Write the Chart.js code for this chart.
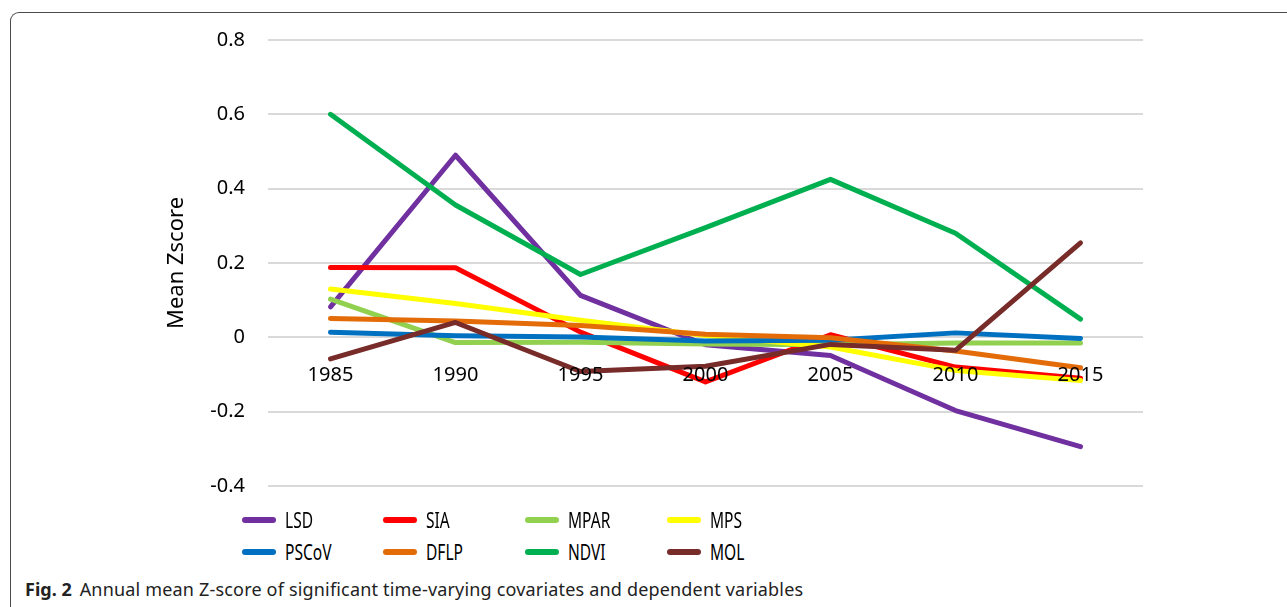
<!DOCTYPE html>
<html>
<head>
<title>Annual mean Z-score</title>
<meta charset="UTF-8">
<script src="https://cdn.jsdelivr.net/npm/chart.js"></script>
<style>
  body { margin: 0; background: #fff; width: 1287px; height: 607px; overflow: hidden; position: relative; font-family: "Noto Sans", sans-serif; }
  .frame { position: absolute; left: 10px; top: 12px; width: 1400px; height: 700px; border-top: 1.5px solid #4a4a4a; border-left: 1.5px solid #4a4a4a; border-top-left-radius: 9px; }
  #wrap { position: absolute; left: 0; top: 0; width: 1287px; height: 521px; }
  #legend { position: absolute; left: 0; top: 0; }
  .item { position: absolute; height: 24px; font-family: "Noto Sans", sans-serif; font-size: 21px; color: #000; }
  .item span.sw { position: absolute; left: 0; top: 9px; width: 34px; height: 6px; border-radius: 3px; }
  .item span.tx { position: absolute; left: 43px; top: 0; line-height: 24px; white-space: nowrap; transform: scaleX(0.74); transform-origin: left center; }
  .caption { position: absolute; left: 25px; top: 577px; font-size: 18px; color: #222; white-space: nowrap; }
  .caption b { margin-right: 8px; }
  .caption span { letter-spacing: 0.18px; }
</style>
</head>
<body>
<div class="frame"></div>
<div id="wrap"><canvas id="chart"></canvas></div>
<div id="legend"></div>
<div class="caption"><b>Fig. 2</b><span>Annual mean Z-score of significant time-varying covariates and dependent variables</span></div>
<script>
// years on the x axis
const years = ["1985", "1990", "1995", "2000", "2005", "2010", "2015"];
const yTicks = [-0.4, -0.2, 0, 0.2, 0.4, 0.6, 0.8];

// mean z-score per variable
const LSD   = [0.082, 0.490, 0.113, -0.020, -0.049, -0.197, -0.294];
const SIA   = [0.188, 0.187, 0.014, -0.120, 0.007, -0.080, -0.110];
const MPAR  = [0.103, -0.014, -0.013, -0.018, -0.020, -0.015, -0.015];
const MPS   = [0.130, 0.091, 0.046, 0.005, -0.026, -0.089, -0.116];
const PSCoV = [0.014, 0.004, 0.001, -0.010, -0.008, 0.012, -0.003];
const DFLP  = [0.051, 0.044, 0.032, 0.008, -0.001, -0.037, -0.082];
const NDVI  = [0.600, 0.356, 0.169, 0.295, 0.425, 0.280, 0.049];
const MOL   = [-0.058, 0.040, -0.092, -0.078, -0.019, -0.035, 0.254];

const names  = ["LSD", "SIA", "MPAR", "MPS", "PSCoV", "DFLP", "NDVI", "MOL"];
const series = [LSD, SIA, MPAR, MPS, PSCoV, DFLP, NDVI, MOL];
const colors = ["#7030A0", "#FF0000", "#92D050", "#FFFF00", "#0070C0", "#E36C09", "#00B050", "#772C2A"];

const datasets = names.map((n, i) => ({
  label: n,
  data: series[i],
  borderColor: colors[i],
  backgroundColor: colors[i],
  borderWidth: 5,
  pointRadius: 0,
  tension: 0,
  borderCapStyle: "round",
  borderJoinStyle: "round",
  order: names.length - i   // later series drawn on top, like excel
}));

new Chart(document.getElementById("chart"), {
  type: "line",
  data: { labels: years, datasets: datasets },
  options: {
    responsive: true,
    maintainAspectRatio: false,
    animation: false,
    layout: { padding: { left: 160, right: 144, top: 40, bottom: 15 } },
    plugins: { legend: { display: false }, tooltip: { enabled: false } },
    scales: {
      x: {
        type: "category",
        offset: true,
        position: { y: 0 },
        grid: { display: false },
        border: { display: false },
        // year labels sit on top of the lines
        ticks: { z: 1, color: "#000", padding: 18, font: { family: "Noto Sans", size: 20 }, maxRotation: 0 }
      },
      y: {
        min: -0.4,
        max: 0.8,
        afterFit: s => { s.width = 108; },
        afterBuildTicks: s => { s.ticks = yTicks.map(v => ({ value: v })); },
        grid: { color: "#d9d9d9", lineWidth: 2, drawTicks: false },
        border: { display: false },
        ticks: { color: "#000", padding: 23, font: { family: "Noto Sans", size: 20 },
                 callback: v => String(Math.round(v * 10) / 10) },
        title: { display: true, text: "Mean Zscore", color: "#000", padding: { top: 4, bottom: 0 },
                 font: { family: "Noto Sans", size: 22 } }
      }
    }
  }
});

// legend, 4 columns x 2 rows
const legend = document.getElementById("legend");
const colX = [242, 383, 525, 667];
const rowY = [508, 540];
names.forEach((n, i) => {
  const d = document.createElement("div");
  d.className = "item";
  d.style.left = colX[i % 4] + "px";
  d.style.top = rowY[Math.floor(i / 4)] + "px";
  d.innerHTML = '<span class="sw" style="background:' + colors[i] + '"></span><span class="tx">' + n + '</span>';
  legend.appendChild(d);
});
</script>
</body>
</html>
